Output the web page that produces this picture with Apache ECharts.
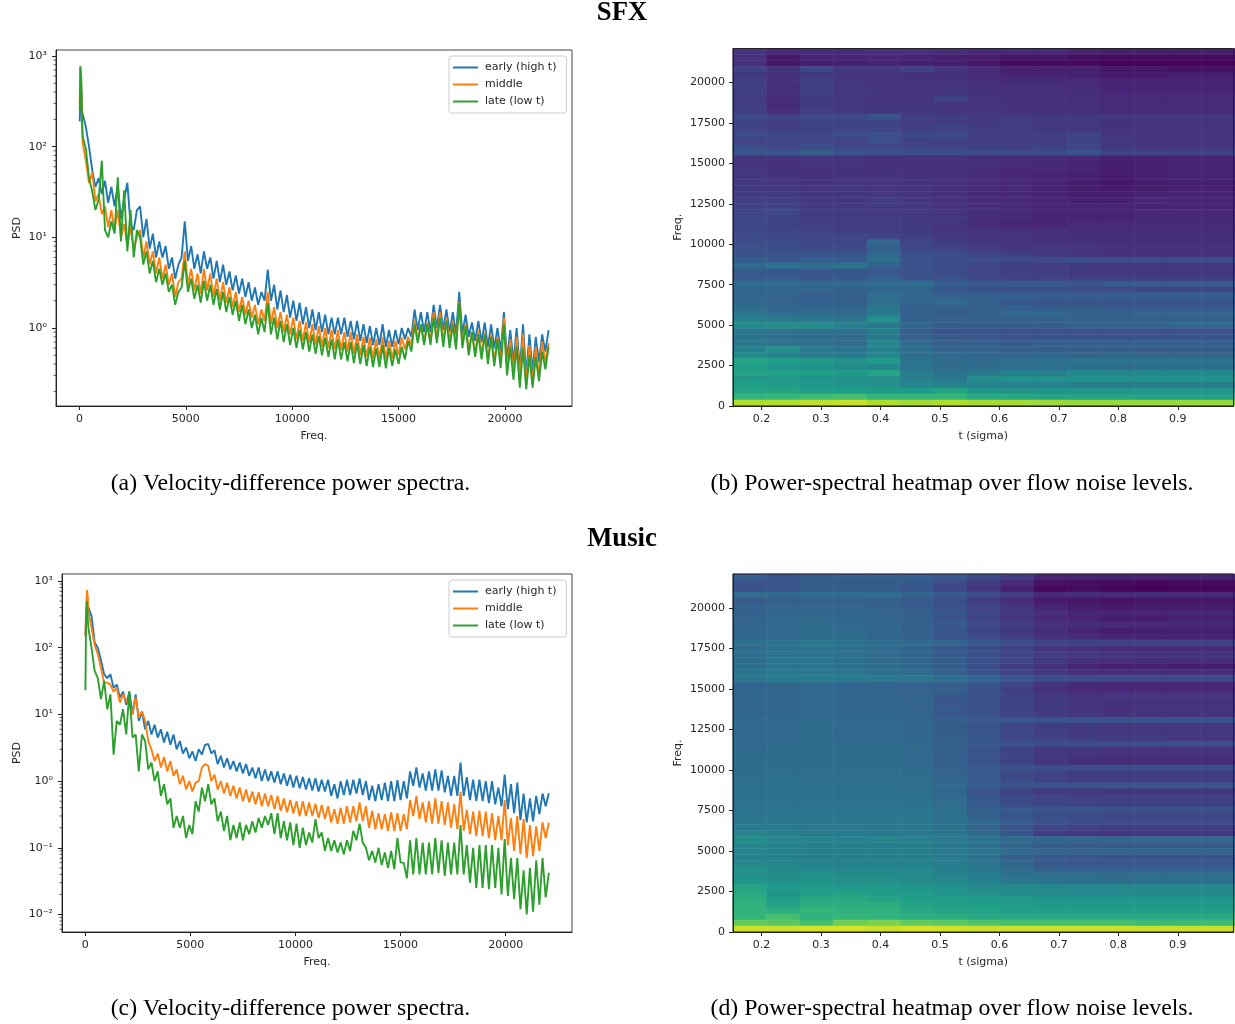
<!DOCTYPE html>
<html><head><meta charset="utf-8">
<style>html,body{margin:0;padding:0;background:#fff}#c{width:1235px;height:1024px}</style>
<script src="https://cdn.jsdelivr.net/npm/echarts@6/dist/echarts.min.js"></script>
</head><body><div id="c"></div>
<script>
const lowFreqs=[11,43,86,120];
const combStep=150, combCount=147;
const freqs=lowFreqs.concat(Array.from({length:combCount},(_,i)=>combStep*(i+1)));
const names=['early (high t)','middle','late (low t)'];
const colors=['#1f77b4','#ff7f0e','#2ca02c'];
const sfxEarly=[190,330,420,260,
230,165,100,55,36,45,30,42,24,36,22,38,16,26,40,14,12,20,22,10,
16,7.5,11,6,9,6,8,4.5,6,3.5,5,6,15,5.5,8,4.5,6.5,4,7,4.5,
6,3.5,5.5,3.2,5,3,4.2,2.6,3.8,2.4,3.5,2.2,3.2,2,2.8,1.8,2.5,2,4.4,2,
3,1.6,2.6,1.5,2.3,1.3,2,1.2,1.9,1.1,1.7,1,1.6,.95,1.5,.9,1.4,.85,1.3,.85,
1.3,.85,1.3,.8,1.2,.75,1.2,.72,1.1,.68,1.05,.65,1,.65,1.1,.62,.95,.62,.95,.66,
1,.75,1,.8,1.6,.95,1.5,.9,1.5,.9,1.8,1,1.8,.95,1.6,.9,1.5,.85,2.5,.85,
1.4,.8,1.15,.72,1.2,.7,1.15,.62,1.1,.6,1.0,.55,1.5,.45,.95,.42,1.0,.35,1.1,.3,
.85,.33,.8,.42,.85,.55,.95];
const sfxMiddle=[300,760,450,230,
110,70,40,52,25,30,18,22,13,20,12,20,10,14,8,13,7.5,10,12,6,
9,5,7,4,6,3.5,5,3,4,2.2,3.2,3.5,7,3,4.5,2.6,4,2.4,4.5,2.6,
4,2.2,3.5,2,3.2,1.9,2.8,1.7,2.5,1.5,2.2,1.4,2,1.3,1.8,1.1,1.6,1.2,2.5,1.1,
1.7,1,1.5,.9,1.4,.85,1.3,.75,1.2,.72,1.15,.68,1.1,.65,1.05,.62,1,.6,.95,.58,
.95,.57,.9,.55,.9,.52,.85,.5,.8,.48,.78,.46,.75,.45,.8,.45,.72,.46,.72,.5,
.78,.58,.8,.65,1.25,.75,1.1,.7,1.15,.7,1.5,.75,1.5,.7,1.3,.7,1.2,.65,1.95,.65,
1.1,.58,.9,.52,.95,.5,.9,.45,.85,.42,.8,.42,1.3,.35,.75,.33,.8,.27,.85,.24,
.65,.25,.62,.3,.7,.42,.68];
const sfxLate=[250,770,560,180,
130,95,45,32,20,26,70,12,10,15,11,46,9,33,7,20,6,12,10,5,
7,4,5.5,3.2,4.5,3,4,2.5,3,1.8,2.5,2.8,5.5,2.5,3.5,2.1,3,1.9,3.3,2,
3,1.8,2.7,1.6,2.5,1.5,2.2,1.4,2,1.2,1.8,1.1,1.6,1,1.4,.85,1.3,.9,1.9,.85,
1.3,.75,1.2,.7,1.1,.65,1,.6,.95,.58,.9,.55,.85,.52,.82,.5,.78,.48,.75,.45,
.75,.45,.7,.43,.7,.41,.68,.4,.65,.38,.62,.37,.6,.37,.65,.36,.6,.38,.58,.4,
.62,.45,.72,.55,1.1,.68,1.1,.65,1.1,.65,1.3,.68,1.3,.62,1.2,.6,1.1,.58,1.9,.6,
1.05,.5,.9,.48,.85,.45,.85,.4,.8,.38,.75,.36,1.1,.3,.62,.27,.62,.22,.6,.21,
.5,.22,.48,.26,.55,.35,.62];
const musicEarly=[155,260,400,430,
440,300,120,100,65,40,35,40,25,28,18,22,14,22,10,20,8,11,6,8,
5,7,4.5,6,3.8,5.5,3.5,5,3,4,2.6,3.2,2.2,2.8,2,3,2.5,3.5,3.6,2.6,
2.9,1.8,2.4,1.6,2.2,1.5,2,1.4,1.9,1.3,1.8,1.2,1.6,1.1,1.6,1,1.5,1,1.4,.95,
1.4,.9,1.3,.85,1.25,.8,1.2,.78,1.15,.75,1.1,.72,1.1,.7,1.05,.7,1.05,.6,.9,.55,
1,.62,1.05,.62,1.05,.65,1.1,.62,1,.52,.85,.5,.9,.52,.95,.5,1,.5,1.03,.52,
1,.55,1.4,.85,1.6,.8,1.3,.72,1.4,.72,1.5,.72,1.45,.68,1.2,.6,1.2,.6,1.9,.6,
1.15,.52,1.05,.5,1.05,.5,1.0,.47,1,.45,.8,.42,1.25,.38,.9,.33,.95,.26,.65,.24,
.55,.25,.6,.32,.65,.42,.66];
const musicMiddle=[150,400,730,600,
350,200,110,80,50,30,30,28,22,25,15,20,16,14,10,18,9,11,8,4,
3,2,2.6,1.6,2.3,1.4,2,1.2,1.5,.9,1.2,.75,1,.7,.95,1,1.6,1.8,1.7,1,
1.25,.75,1,.65,.95,.6,.85,.55,.8,.5,.75,.48,.7,.45,.68,.42,.65,.42,.62,.38,
.6,.36,.55,.34,.52,.33,.5,.3,.5,.3,.48,.3,.46,.28,.44,.27,.42,.24,.38,.23,
.4,.23,.42,.24,.42,.25,.48,.25,.42,.2,.36,.19,.33,.19,.32,.18,.34,.18,.33,.18,
.32,.19,.52,.3,.6,.27,.48,.24,.5,.23,.55,.23,.5,.22,.48,.2,.45,.19,.69,.18,
.37,.16,.35,.15,.36,.15,.35,.14,.33,.13,.3,.13,.52,.11,.28,.09,.3,.08,.27,.07,
.22,.075,.21,.09,.24,.14,.24];
const musicLate=[23,300,500,280,
200,100,45,35,17,32,12,20,2.5,8,7,12,5,22,4.5,5,1.4,5,4,1.5,
1.9,1,1.4,.6,.9,.45,.55,.2,.3,.2,.3,.14,.22,.16,.5,.35,.8,.5,.9,.45,
.55,.25,.35,.18,.3,.13,.22,.14,.24,.13,.22,.16,.25,.17,.28,.2,.3,.22,.33,.16,
.33,.14,.25,.13,.24,.11,.23,.1,.2,.11,.17,.12,.27,.14,.17,.09,.14,.09,.13,.085,
.12,.08,.13,.09,.18,.13,.23,.12,.1,.065,.09,.06,.1,.055,.085,.05,.09,.048,.14,.06,
.06,.035,.13,.04,.14,.04,.12,.04,.12,.04,.14,.042,.13,.038,.12,.04,.12,.04,.22,.04,
.11,.03,.1,.025,.11,.025,.11,.024,.11,.025,.1,.02,.135,.019,.07,.017,.07,.012,.046,.01,
.05,.011,.065,.014,.07,.018,.042];
const heatT=['0.18','0.24','0.30','0.36','0.42','0.48','0.54','0.60','0.66','0.72','0.78','0.84','0.90','0.96','0.99'];
const sfxHeat=[
[15,12,13,13,14,14,13,12,11,11,10,9,9,9],
[14,7,10,10,11,10,9,8,6,6,4,3,3,3],
[13,6,9,9,10,9,8,6,3,3,2,1,1,1],
[20,15,22,17,17,20,16,13,9,9,9,6,6,5],
[17,14,17,15,15,14,14,12,10,10,9,7,7,8],
[19,14,19,16,15,15,15,13,12,12,11,10,10,10],
[19,13,19,16,15,15,15,14,13,13,12,10,10,10],
[19,13,19,16,16,15,16,14,13,13,13,11,11,11],
[18,13,18,16,15,15,20,15,14,14,13,11,11,12],
[18,12,17,16,15,15,16,15,14,14,13,12,12,12],
[19,13,18,17,16,16,15,15,14,14,14,12,12,12],
[22,20,23,22,26,19,18,17,17,17,17,16,16,16],
[20,18,20,20,20,18,18,17,18,16,16,14,15,15],
[21,19,20,21,21,19,20,18,18,17,17,15,15,15],
[23,22,22,23,25,22,23,19,19,19,21,16,16,16],
[21,21,21,21,24,20,20,18,18,18,20,16,15,15],
[24,22,24,22,22,21,20,19,19,20,21,17,16,16],
[26,26,29,26,25,24,24,23,23,23,26,20,20,20],
[15,14,15,15,14,14,14,13,12,12,11,9,9,10],
[15,13,14,14,14,14,14,13,12,11,10,8,9,10],
[16,14,14,14,14,14,14,13,11,11,10,8,9,10],
[16,15,14,15,15,14,14,12,11,10,9,8,9,10],
[17,15,15,15,15,15,14,12,11,10,8,6,8,9],
[17,16,15,16,15,15,14,12,11,10,8,7,8,9],
[18,17,16,16,16,15,14,12,11,10,8,8,9,10],
[19,19,17,16,18,16,14,12,11,10,9,9,11,10],
[20,20,17,17,17,16,14,13,11,10,10,10,10,10],
[21,22,18,18,17,17,15,13,11,10,10,10,11,11],
[22,21,18,18,18,17,17,13,12,10,10,10,11,11],
[22,20,19,18,18,17,15,12,10,10,11,11,11,11],
[22,21,20,19,19,18,15,14,13,13,12,12,12,12],
[23,22,21,21,21,19,17,15,15,14,13,13,13,13],
[24,23,22,22,33,21,18,16,15,14,14,13,13,13],
[25,24,23,23,30,22,20,18,16,16,15,14,14,14],
[26,25,25,26,33,24,24,21,19,17,15,14,14,14],
[29,28,31,29,37,26,24,24,23,23,24,23,23,24],
[34,38,35,38,31,25,24,21,19,18,17,17,16,17],
[28,27,27,27,28,25,23,21,19,18,17,17,16,16],
[29,29,28,28,30,26,25,22,20,20,19,19,19,19],
[36,36,34,35,35,36,30,29,28,28,27,28,28,28],
[33,33,32,31,33,32,28,25,24,24,23,23,22,22],
[33,32,30,30,36,33,31,31,31,30,30,30,30,30],
[33,31,30,30,35,32,34,30,28,27,27,26,26,26],
[35,33,32,32,40,31,30,30,30,29,29,28,28,28],
[38,36,35,34,41,31,29,31,33,33,31,31,32,32],
[44,41,40,39,50,31,31,30,30,31,31,30,30,30],
[49,50,49,45,40,33,30,30,30,30,32,32,32,33],
[40,38,38,37,43,30,26,26,25,25,25,25,25,25],
[38,36,35,34,40,30,28,27,26,26,26,26,26,26],
[40,38,36,35,46,34,30,30,29,31,30,30,31,30],
[44,50,40,38,44,36,32,31,30,30,30,30,29,29],
[48,44,42,41,47,36,34,33,32,33,32,33,32,32],
[58,55,53,50,54,38,34,34,36,36,38,38,38,38],
[56,52,51,49,47,38,35,35,36,36,36,36,36,36],
[58,57,56,54,58,42,38,40,44,43,46,46,46,46],
[53,53,52,50,50,43,40,48,50,50,50,50,50,50],
[56,55,54,52,50,46,45,44,44,44,43,43,43,43],
[58,58,56,56,55,54,58,52,50,52,52,52,52,52],
[66,66,68,70,66,66,66,60,60,58,58,58,57,57],
[88,88,90,92,88,86,88,86,86,85,84,84,84,84]];
const musicHeat=[
[30,27,29,30,30,30,28,23,18,10,10,10,10,10],
[26,26,29,29,29,28,24,18,12,5,4,3,2,3],
[25,27,29,29,29,27,22,16,9,2,3,1,0,1],
[35,34,35,35,36,33,28,23,18,12,13,12,13,12],
[29,30,30,30,30,28,24,18,13,7,6,5,6,6],
[31,32,32,32,31,29,25,20,15,10,8,7,8,8],
[31,33,33,33,32,30,27,22,17,13,10,10,10,10],
[32,34,34,33,32,30,26,21,16,12,10,8,8,9],
[32,34,35,34,33,31,28,23,18,14,13,12,12,11],
[33,34,35,34,33,31,27,22,17,13,10,8,9,9],
[33,34,35,35,33,31,27,23,18,14,12,10,10,10],
[37,38,40,38,36,35,32,28,24,21,20,20,20,20],
[34,36,37,36,34,32,28,24,20,16,14,12,12,12],
[36,38,38,37,35,33,29,25,21,18,16,15,14,14],
[35,39,39,37,35,33,29,25,21,17,14,13,13,13],
[36,38,38,37,35,33,29,24,18,14,10,9,9,8],
[38,40,40,39,36,34,30,26,21,17,14,13,13,13],
[39,41,42,41,41,39,36,33,27,24,23,23,22,22],
[33,33,34,33,32,31,30,27,21,15,12,11,11,11],
[33,33,34,33,32,31,30,26,19,14,12,11,11,11],
[33,33,34,33,33,32,28,25,20,17,15,15,15,15],
[33,33,34,33,33,32,27,25,20,17,15,14,14,14],
[33,33,34,33,33,32,28,25,20,17,15,14,15,15],
[33,33,34,33,33,32,28,25,21,18,16,15,15,15],
[34,34,35,34,34,33,30,28,27,26,26,26,26,26],
[34,34,35,34,34,33,29,26,21,18,17,16,16,16],
[34,34,35,34,34,33,29,26,22,19,17,16,16,16],
[34,34,35,34,34,33,30,27,22,20,18,17,17,16],
[35,35,35,35,35,34,31,28,25,24,24,24,24,24],
[34,35,35,35,35,34,30,26,20,16,15,14,14,14],
[35,35,35,35,35,34,30,26,21,17,15,14,14,14],
[35,35,35,35,35,34,30,26,20,15,13,12,12,12],
[35,35,36,36,36,35,31,28,25,24,24,24,24,24],
[35,36,36,36,36,35,32,28,23,20,18,18,18,18],
[36,36,36,36,36,35,32,28,23,20,18,18,18,18],
[37,37,37,37,37,36,34,30,26,26,26,26,26,26],
[37,37,37,37,37,36,33,26,20,17,16,15,15,15],
[37,37,37,37,37,37,34,28,23,21,20,20,20,20],
[38,38,38,38,38,38,35,28,23,21,20,19,19,19],
[38,38,38,38,38,39,36,30,28,27,27,26,26,26],
[39,39,39,39,39,39,37,31,27,24,23,22,22,22],
[40,40,40,40,40,40,37,33,29,26,24,24,24,24],
[40,40,40,40,40,40,38,32,27,22,20,19,19,19],
[45,43,42,42,41,40,39,34,27,18,16,15,16,16],
[49,46,46,45,46,43,41,38,34,33,33,33,33,33],
[47,44,43,43,43,43,40,37,32,29,29,28,28,28],
[46,44,43,43,43,43,41,38,34,33,32,32,32,32],
[44,44,43,43,43,43,41,37,31,28,27,26,26,26],
[47,45,44,44,44,44,42,38,33,28,27,27,27,27],
[50,47,46,46,46,47,43,40,35,31,30,30,30,30],
[50,49,50,48,48,47,45,42,37,36,35,35,35,35],
[52,50,52,50,50,48,47,44,40,38,36,35,36,36],
[58,54,54,54,53,52,50,47,47,47,47,47,46,46],
[60,52,56,57,55,54,52,50,48,47,47,47,46,46],
[62,55,60,60,58,56,56,54,53,52,52,52,52,52],
[64,58,62,62,62,58,57,56,55,54,54,54,54,54],
[65,62,66,64,64,60,58,57,56,56,56,56,56,56],
[66,70,64,66,64,62,62,60,60,60,60,60,60,60],
[76,74,70,78,80,76,74,72,70,70,70,70,68,68],
[92,92,94,94,92,94,93,92,92,92,92,92,92,92]];
const freqTicks=[0,5000,10000,15000,20000];
const sfxPowers=[1,10,100,1000];
const musicPowers=[0.01,0.1,1,10,100,1000];
const sfxMinor=[.2,.3,.4,.5,.6,.7,.8,.9,2,3,4,5,6,7,8,9,20,30,40,50,60,70,80,90,200,300,400,500,600,700,800,900];
const musicMinor=[.006,.007,.008,.009,.02,.03,.04,.05,.06,.07,.08,.09,.2,.3,.4,.5,.6,.7,.8,.9,2,3,4,5,6,7,8,9,20,30,40,50,60,70,80,90,200,300,400,500,600,700,800,900];
const tTicks=[0.2,0.3,0.4,0.5,0.6,0.7,0.8,0.9];
const heatFreqTicks=[0,2500,5000,7500,10000,12500,15000,17500,20000];
const superscript={'-2':'⁻²','-1':'⁻¹','0':'⁰','1':'¹','2':'²','3':'³'};
const viridis=['#440154','#482878','#3e4989','#31688e','#26828e','#1f9e89','#35b779','#6ece58','#b5de2b','#fde725'];
const mono='DejaVu Sans', ink='#262626';
const axisCommon={axisLine:{show:true,onZero:false,lineStyle:{color:'#222',width:1}},axisTick:{show:true,length:4,lineStyle:{color:'#222',width:1}},splitLine:{show:false},minorTick:{show:false},nameLocation:'middle',nameTextStyle:{fontFamily:mono,fontSize:11,color:ink},z:5};
const labelStyle={fontFamily:mono,fontSize:11,color:ink};
const grids=[],xAxes=[],yAxes=[],series=[];
function linePanel(g,left,xMin,yMin,yMax,powers,minor,data){
  const gi=grids.length;
  grids.push({left,top:g.top,width:572-left,height:g.h,show:true,borderColor:'#444',borderWidth:1,backgroundColor:'#fff',containLabel:false});
  xAxes.push(Object.assign({},axisCommon,{gridIndex:gi,type:'value',min:xMin,max:23152,name:'Freq.',nameGap:25,
    axisTick:Object.assign({},axisCommon.axisTick,{customValues:freqTicks}),
    axisLabel:Object.assign({},labelStyle,{margin:8,customValues:freqTicks,formatter:v=>String(v)})}));
  yAxes.push(Object.assign({},axisCommon,{gridIndex:gi,type:'log',logBase:10,min:yMin,max:yMax,name:'PSD',nameGap:left-23,
    axisTick:Object.assign({},axisCommon.axisTick,{customValues:powers}),
    axisLabel:Object.assign({},labelStyle,{margin:9,customValues:powers,formatter:v=>'10'+superscript[String(Math.round(Math.log10(v)))]})}));
  data.forEach((vals,k)=>series.push({type:'line',name:names[k],xAxisIndex:gi,yAxisIndex:gi,showSymbol:false,symbol:'none',animation:false,
    data:freqs.map((f,i)=>[f,vals[i]]),lineStyle:{color:colors[k],width:1.9},itemStyle:{color:colors[k]},z:3+k}));
  series.push({type:'custom',xAxisIndex:gi,yAxisIndex:gi,silent:true,clip:false,animation:false,z:6,
    data:minor.map(v=>[xMin,v]),
    renderItem:(p,api)=>{const c=api.coord([api.value(0),api.value(1)]);
      return {type:'line',shape:{x1:c[0]-2.5,y1:c[1],x2:c[0],y2:c[1]},style:{stroke:'#333',lineWidth:0.8}};}});
}
function heatPanel(top,h,heat){
  const gi=grids.length;
  grids.push({left:733,top,width:525,height:h,containLabel:false});
  const rows=heat.map((_,i)=>String(i));
  xAxes.push({gridIndex:gi,type:'category',data:heatT,show:false,boundaryGap:true});
  yAxes.push({gridIndex:gi,type:'category',data:rows,show:false,inverse:true,boundaryGap:true});
  const cells=[];
  heat.forEach((row,r)=>heatT.forEach((_,c)=>cells.push([c,r,row[Math.min(c,row.length-1)]])));
  series.push({type:'heatmap',xAxisIndex:gi,yAxisIndex:gi,data:cells,animation:false,progressive:0,emphasis:{disabled:true},z:2});
  const gv=grids.length;
  grids.push({left:733,top,width:500.5,height:h,show:true,borderColor:'#222',borderWidth:1,backgroundColor:'transparent',z:4});
  xAxes.push(Object.assign({},axisCommon,{gridIndex:gv,type:'value',min:0.152,max:0.9936,name:'t (sigma)',nameGap:25,
    axisTick:Object.assign({},axisCommon.axisTick,{customValues:tTicks}),
    axisLabel:Object.assign({},labelStyle,{margin:8,customValues:tTicks,formatter:v=>v.toFixed(1)})}));
  yAxes.push(Object.assign({},axisCommon,{gridIndex:gv,type:'value',min:0,max:22102,name:'Freq.',nameGap:49,
    axisTick:Object.assign({},axisCommon.axisTick,{customValues:heatFreqTicks}),
    axisLabel:Object.assign({},labelStyle,{margin:8,customValues:heatFreqTicks,formatter:v=>String(v)})}));
}
linePanel({top:50,h:356},56,-1103,0.138,1164,sfxPowers,sfxMinor,[sfxEarly,sfxMiddle,sfxLate]);
heatPanel(48.5,357.5,sfxHeat);
linePanel({top:574,h:358},62,-1103,0.00547,1274,musicPowers,musicMinor,[musicEarly,musicMiddle,musicLate]);
heatPanel(574,358,musicHeat);
const serif='Liberation Serif';
const cap=(text,x,y)=>({text,left:x,top:y,textAlign:'center',padding:0,textStyle:{fontFamily:serif,fontSize:23.75,fontWeight:'normal',color:'#000'}});
const head=(text,y)=>({text,left:622,top:y,textAlign:'center',padding:0,textStyle:{fontFamily:serif,fontSize:26.7,fontWeight:'bold',color:'#000'}});
const legendAt=top=>({orient:'vertical',left:449,top,data:names,icon:'rect',itemWidth:25,itemHeight:2,itemGap:4,padding:[5,10,5,4],backgroundColor:'#fff',borderColor:'#ccc',borderWidth:1,borderRadius:3,textStyle:{fontFamily:mono,fontSize:11,color:ink,padding:[0,0,0,2],lineHeight:13},selectedMode:false,z:10});
const chart=echarts.init(document.getElementById('c'),null,{renderer:'canvas'});
chart.setOption({animation:false,backgroundColor:'#fff',
  title:[head('SFX',0),head('Music',526),cap('(a) Velocity-difference power spectra.',290.5,472),cap('(b) Power-spectral heatmap over flow noise levels.',952,472),cap('(c) Velocity-difference power spectra.',290.5,997),cap('(d) Power-spectral heatmap over flow noise levels.',952,997)],
  legend:[legendAt(56),legendAt(580)],
  visualMap:{show:false,type:'continuous',min:0,max:100,seriesIndex:series.map((s,i)=>s.type==='heatmap'?i:-1).filter(i=>i>=0),inRange:{color:viridis}},
  grid:grids,xAxis:xAxes,yAxis:yAxes,series});
</script></body></html>
